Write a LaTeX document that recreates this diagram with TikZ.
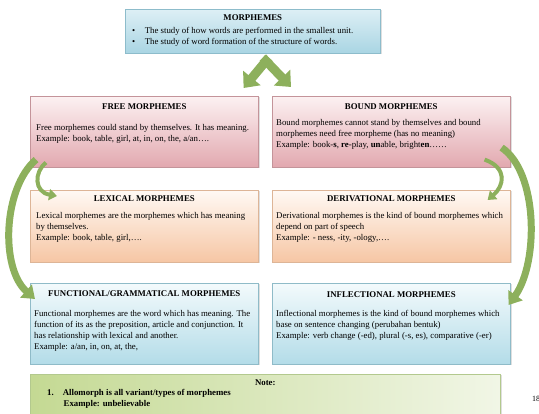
\documentclass[tikz,border=0pt]{standalone}
\usepackage{fontspec}
\setmainfont{Liberation Serif}
\usepackage{tikz}
\usetikzlibrary{positioning}
\usetikzlibrary{calc}
\usetikzlibrary{arrows.meta}
\usetikzlibrary{shadows}
\definecolor{leafgreen}{HTML}{8DB05C}
\definecolor{skytop}{HTML}{DDEFF5}
\definecolor{skybot}{HTML}{A9D5E3}
\definecolor{skyline}{HTML}{8DBCCB}
\definecolor{rosetop}{HTML}{FCF1F2}
\definecolor{rosebot}{HTML}{E2A8AF}
\definecolor{roseline}{HTML}{C4949A}
\definecolor{peachtop}{HTML}{FFF9F4}
\definecolor{peachbot}{HTML}{F6C6A4}
\definecolor{peachline}{HTML}{DDB597}
\definecolor{icetop}{HTML}{F3FAFC}
\definecolor{icebot}{HTML}{B3DCE8}
\definecolor{iceline}{HTML}{8FBBC8}
\definecolor{notel}{HTML}{C4D993}
\definecolor{noter}{HTML}{F1F6E6}
\definecolor{noteline}{HTML}{B3C98E}

\begin{document}
\begin{tikzpicture}[
		x=1pt, y=1pt,
		every node/.style = {
			inner sep=0pt,
			font=\fontsize{8.8}{11}\selectfont
		},
		morphbox/.style = {
			shape=rectangle,
			draw,
			line width=0.6pt,
			anchor=north west,
			drop shadow={opacity=0.25, shadow xshift=1.2pt, shadow yshift=-1.2pt}
		},
		rightcol/.style = {minimum width=238},
		freebox/.style = {
			morphbox, draw=roseline, top color=rosetop, bottom color=rosebot,
			minimum width=228, minimum height=71
		},
		lexbox/.style = {
			morphbox, draw=peachline, top color=peachtop, bottom color=peachbot,
			minimum width=228, minimum height=72
		},
		funcbox/.style = {
			morphbox, draw=iceline, top color=icetop, bottom color=icebot,
			minimum width=228, minimum height=81
		},
		title/.style = {
			anchor=base, font=\fontsize{8.8}{11}\selectfont\bfseries
		},
		% first baseline sits 7.7pt below the node's north edge
		body/.style = {
			anchor=north west, align=left, execute at begin node=\strut
		},
		leaf/.style = {
			draw=leafgreen, line width=9pt,
			-{Triangle[width=22pt, length=13pt]}
		},
		bigcurl/.style = {
			draw=leafgreen, line width=7pt,
			-{Triangle[width=17pt, length=12pt]}
		},
		smallcurl/.style = {
			draw=leafgreen, line width=4pt,
			-{Triangle[width=11pt, length=8pt]}
		}
		]
		\useasboundingbox (0,0) rectangle (539,-414);

		% top box
		\node[morphbox, draw=skyline, top color=skytop, bottom color=skybot,
			minimum width=255, minimum height=44] (morph) at (125,-9) {};
		\node[title] (morpht) at ([yshift=-12]morph.north) {MORPHEMES};
		\node[body] (morphb) at ([xshift=7,yshift=-18.3]morph.north west)
			{\textbullet\hspace{9.5pt}The study of how words are performed in the smallest unit.\\
			 \textbullet\hspace{9.5pt}The study of word formation of the structure of words.};

		% free / bound
		\node[freebox] (free) at (30,-96) {};
		\node[title] (freet) at ([yshift=-14]free.north) {FREE MORPHEMES};
		\node[body] (freeb) at ([xshift=6,yshift=-28.3]free.north west)
			{Free morphemes could stand by themselves. It has meaning.\\
			 Example: book, table, girl, at, in, on, the, a/an\dots.};

		\node[freebox, rightcol] (bound) at (272,-96) {};
		\node[title] (boundt) at ([yshift=-14]bound.north) {BOUND MORPHEMES};
		\node[body] (boundb) at ([xshift=4,yshift=-23.3]bound.north west)
			{Bound morphemes cannot stand by themselves and bound\\
			 morphemes need free morpheme (has no meaning)\\
			 Example: book-\textbf{s}, \textbf{re}-play, \textbf{un}able, bright\textbf{en}\dots\dots};

		% lexical / derivational
		\node[lexbox] (lex) at (30,-190) {};
		\node[title] (lext) at ([yshift=-12]lex.north) {LEXICAL MORPHEMES};
		\node[body] (lexb) at ([xshift=6,yshift=-22.3]lex.north west)
			{Lexical morphemes are the morphemes which has meaning\\
			 by themselves.\\
			 Example: book, table, girl,\dots.};

		\node[lexbox, rightcol] (deriv) at (272,-190) {};
		\node[title] (derivt) at ([yshift=-12]deriv.north) {DERIVATIONAL MORPHEMES};
		\node[body] (derivb) at ([xshift=4,yshift=-22.3]deriv.north west)
			{Derivational morphemes is the kind of bound morphemes which\\
			 depend on part of speech\\
			 Example: - ness, -ity, -ology,\dots.};

		% functional / inflectional
		\node[funcbox] (func) at (30,-283) {};
		\node[title] (funct) at ([yshift=-14]func.north) {FUNCTIONAL/GRAMMATICAL MORPHEMES};
		\node[body] (funcb) at ([xshift=4,yshift=-27.3]func.north west)
			{Functional morphemes are the word which has meaning. The\\
			 function of its as the preposition, article and conjunction. It\\
			 has relationship with lexical and another.\\
			 Example: a/an, in, on, at, the,};

		\node[funcbox, rightcol] (infl) at (272,-283) {};
		\node[title] (inflt) at ([yshift=-15]infl.north) {INFLECTIONAL MORPHEMES};
		\node[body] (inflb) at ([xshift=4,yshift=-27.3]infl.north west)
			{Inflectional morphemes is the kind of bound morphemes which\\
			 base on sentence changing (perubahan bentuk)\\
			 Example: verb change (-ed), plural (-s, es), comparative (-er)};

		% note
		\node[morphbox, draw=noteline, left color=notel, right color=noter,
			minimum width=470, minimum height=44] (note) at (30,-374) {};
		\node[title] (notet) at ([yshift=-12]note.north) {Note:};
		\node[body, font=\fontsize{8.8}{11}\selectfont\bfseries] (noteb) at ([xshift=17,yshift=-15.3]note.north west)
			{1.\hspace{9pt}Allomorph is all variant/types of morphemes\\
			 \hspace{16.5pt}Example: unbelievable};
		\node[anchor=base west, font=\fontsize{8}{9}\selectfont] (page) at (532,-402) {18};

		% arrows
		\draw[leaf] ([xshift=16,yshift=-4]morph.south) -- ([xshift=-15,yshift=8]free.north east);
		\draw[leaf] ([xshift=10,yshift=-4]morph.south) -- ([xshift=19,yshift=9]bound.north west);

		\draw[bigcurl] ([xshift=6,yshift=8]free.south west)
			.. controls (3,-188) and (0,-268) .. ([xshift=5,yshift=-16]func.north west);
		\draw[smallcurl] ([xshift=16,yshift=5]free.south west)
			.. controls (34,-172) and (34,-192) .. ([xshift=27,yshift=-6]lex.north west);
		\draw[smallcurl] ([xshift=-26,yshift=8]bound.south east)
			.. controls (508,-168) and (504,-186) .. ([xshift=-23,yshift=-10]deriv.north east);
		\draw[bigcurl] ([xshift=-9,yshift=20]bound.south east)
			.. controls (538,-172) and (539,-262) .. ([xshift=-2,yshift=-22]infl.north east);
	\end{tikzpicture}
\end{document}
